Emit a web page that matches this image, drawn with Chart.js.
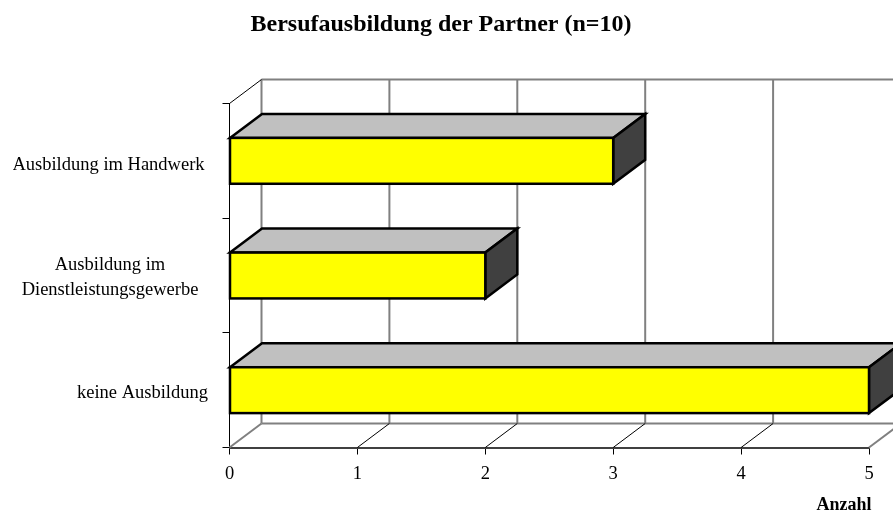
<!DOCTYPE html>
<html><head><meta charset="utf-8">
<style>html,body{margin:0;padding:0;background:#fff}#w{position:relative;width:893px;height:517px}</style>
<script src="https://cdn.jsdelivr.net/npm/chart.js@4"></script>
</head><body><div id="w"><canvas id="c"></canvas></div>
<script>
const categories = ['Ausbildung im Handwerk', ['Ausbildung im', 'Dienstleistungsgewerbe'], 'keine Ausbildung'];
const values = [3, 2, 5];
const xTicks = [0, 1, 2, 3, 4, 5];
const chartTitle = 'Bersufausbildung der Partner (n=10)';
const xTitle = 'Anzahl';

const FONT = '"Liberation Serif", "Times New Roman", serif';
const DX = 32, DY = -24;
const labelCenters = [108.5, 110, 142.5];
const labelShift = [4, 2, 3];

const barBox = bar => {
  const p = bar.getProps(['x', 'y', 'base', 'height'], true);
  return { t: p.y - p.height / 2, b: p.y + p.height / 2, l: p.base, r: p.x };
};

const threeD = {
  id: 'threeD',
  beforeDraw(chart) {
    const ys = chart.scales.y;
    ys.getLabelItems().forEach((it, i) => {
      it.options.translation[0] = labelCenters[i];
      it.options.translation[1] = ys.getPixelForTick(i) + labelShift[i];
      it.options.textAlign = 'center';
    });
  },
  beforeDatasetsDraw(chart) {
    const { ctx, scales: { x, y } } = chart;
    const top = y.top, bottom = y.bottom, x0 = x.getPixelForValue(0), xEnd = x.getPixelForValue(5);
    const line = (a, b, c, d, col, w) => {
      ctx.beginPath(); ctx.moveTo(a, b); ctx.lineTo(c, d);
      ctx.strokeStyle = col; ctx.lineWidth = w; ctx.stroke();
    };
    ctx.save();
    line(x0 + DX, top + DY, xEnd + DX, top + DY, '#808080', 2);
    line(x0 + DX, bottom + DY, xEnd + DX, bottom + DY, '#808080', 2);
    xTicks.forEach(t => {
      const px = x.getPixelForValue(t);
      line(px + DX, top + DY, px + DX, bottom + DY, '#808080', 2);
      const edge = t === 0 || t === 5;
      line(px, bottom, px + DX, bottom + DY, edge ? '#808080' : '#000', edge ? 2 : 1);
    });
    line(x0, top, x0 + DX, top + DY, '#000', 1);
    ctx.lineJoin = 'miter';
    chart.getDatasetMeta(0).data.forEach(bar => {
      const { t, b, l, r } = barBox(bar);
      const poly = (pts, fill) => {
        ctx.beginPath();
        pts.forEach((q, i) => i ? ctx.lineTo(q[0], q[1]) : ctx.moveTo(q[0], q[1]));
        ctx.closePath();
        ctx.fillStyle = fill; ctx.fill();
        ctx.strokeStyle = '#000'; ctx.lineWidth = 2.5; ctx.stroke();
      };
      poly([[l, t], [l + DX, t + DY], [r + DX, t + DY], [r, t]], '#c0c0c0');
      poly([[r, t], [r + DX, t + DY], [r + DX, b + DY], [r, b]], '#404040');
    });
    ctx.restore();
  },
  afterDatasetsDraw(chart) {
    const { ctx } = chart;
    ctx.save();
    ctx.strokeStyle = '#000';
    ctx.lineWidth = 2.5;
    chart.getDatasetMeta(0).data.forEach(bar => {
      const { t, b, l, r } = barBox(bar);
      ctx.strokeRect(l, t, r - l, b - t);
    });
    ctx.restore();
  },
  afterDraw(chart) {
    const { ctx } = chart;
    ctx.save();
    ctx.font = 'bold 18px ' + FONT;
    ctx.fillStyle = '#000';
    ctx.textAlign = 'center';
    ctx.textBaseline = 'middle';
    ctx.fillText(xTitle, 844, 505);
    ctx.restore();
  }
};

new Chart(document.getElementById('c'), {
  type: 'bar',
  data: {
    labels: categories,
    datasets: [{
      data: values,
      backgroundColor: '#ffff00',
      borderWidth: 0,
      barPercentage: 0.4,
      categoryPercentage: 1
    }]
  },
  plugins: [threeD],
  options: {
    indexAxis: 'y',
    responsive: true,
    maintainAspectRatio: false,
    animation: false,
    layout: { padding: { left: 13, right: 24, top: 0, bottom: 0 } },
    plugins: {
      legend: { display: false },
      tooltip: { enabled: false },
      title: {
        display: true,
        text: chartTitle,
        color: '#000',
        font: { family: FONT, size: 24, weight: 'bold', lineHeight: '28px' },
        padding: { top: 11, bottom: 64.5 }
      }
    },
    scales: {
      x: {
        type: 'linear',
        min: 0,
        max: 5,
        afterFit(s) { s.height = 69.5; },
        afterBuildTicks(s) { s.ticks = xTicks.map(v => ({ value: v })); },
        border: { color: '#404040', width: 2 },
        grid: { drawOnChartArea: false, color: '#000', tickLength: 7 },
        ticks: { color: '#000', font: { family: FONT, size: 18.5 }, padding: 9, maxRotation: 0 }
      },
      y: {
        type: 'category',
        afterFit(s) { s.width = 216.5; },
        border: { color: '#000', width: 1 },
        grid: { drawOnChartArea: false, color: '#000', tickLength: 7, offset: true },
        ticks: { color: '#000', font: { family: FONT, size: 18.5, lineHeight: '25px' }, padding: 10, autoSkip: false }
      }
    }
  }
});
</script></body></html>
